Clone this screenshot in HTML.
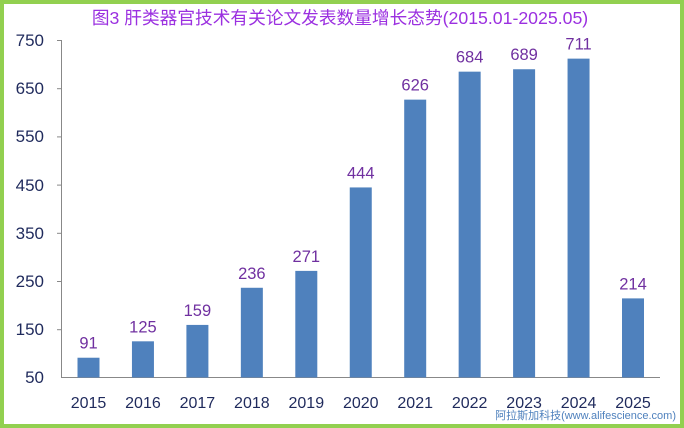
<!DOCTYPE html>
<html><head><meta charset="utf-8"><style>
body{margin:0;background:#fff}
svg{display:block}
text{font-family:"Liberation Sans","Noto Sans CJK SC",sans-serif}
</style></head><body>
<svg width="684" height="428" xmlns="http://www.w3.org/2000/svg">
<rect x="2" y="2" width="680" height="424" fill="#fff" stroke="#92d050" stroke-width="4"/>
<text x="340" y="24" text-anchor="middle" font-size="17.7" fill="#9b30e0">图3 肝类器官技术有关论文发表数量增长态势(2015.01-2025.05)</text>
<g stroke="#888" stroke-width="1">
<line x1="61.5" y1="40" x2="61.5" y2="377.5"/>
<line x1="61" y1="377.5" x2="660" y2="377.5"/>
<line x1="57" y1="40.5" x2="61" y2="40.5"/>
<line x1="57" y1="88.7" x2="61" y2="88.7"/>
<line x1="57" y1="136.9" x2="61" y2="136.9"/>
<line x1="57" y1="185.1" x2="61" y2="185.1"/>
<line x1="57" y1="233.3" x2="61" y2="233.3"/>
<line x1="57" y1="281.5" x2="61" y2="281.5"/>
<line x1="57" y1="329.7" x2="61" y2="329.7"/>
</g>
<g font-size="17" fill="#1f2a5c" text-anchor="end">
<text x="44" y="46">750</text><text x="44" y="94">650</text><text x="44" y="142">550</text><text x="44" y="191">450</text><text x="44" y="239">350</text><text x="44" y="287">250</text><text x="44" y="335">150</text><text x="44" y="383">50</text>
</g>
<g fill="#4f81bd" id="bars"></g>
<g font-size="16" fill="#1f2a5c" text-anchor="middle" id="xl"></g>
<g font-size="16.5" fill="#7030a0" text-anchor="middle" id="vl"></g>
<text x="676" y="419" text-anchor="end" font-size="11" fill="#4f81bd">阿拉斯加科技(www.alifescience.com)</text>
<script>
var v=[91,125,159,236,271,444,626,684,689,711,214],ns="http://www.w3.org/2000/svg";
v.forEach(function(d,i){var c=88.5+i*54.45,y=377.5-(d-50)*0.4824;
var r=document.createElementNS(ns,"rect");r.setAttribute("x",c-11);r.setAttribute("y",y);r.setAttribute("width",22);r.setAttribute("height",377.5-y);document.getElementById("bars").appendChild(r);
var t=document.createElementNS(ns,"text");t.setAttribute("x",c);t.setAttribute("y",408);t.textContent=2015+i;document.getElementById("xl").appendChild(t);
var u=document.createElementNS(ns,"text");u.setAttribute("x",c);u.setAttribute("y",y-9);u.textContent=d;document.getElementById("vl").appendChild(u);});
</script>
</svg>
</body></html>
